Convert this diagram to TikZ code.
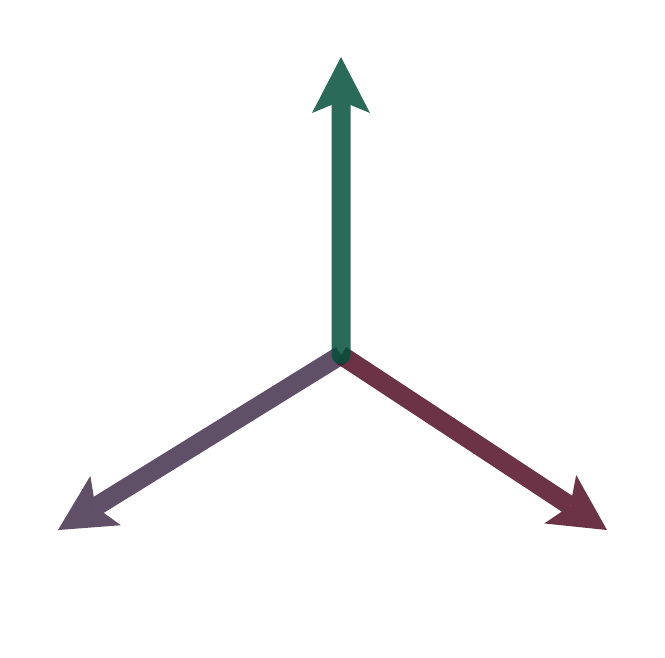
\documentclass[tikz,border=0pt]{standalone}
\usepackage{tikz}
\usetikzlibrary{arrows.meta}

\definecolor{axisgreen}{RGB}{5,80,59}
\definecolor{axispurple}{RGB}{67,48,76}
\definecolor{axismaroon}{RGB}{81,15,36}

\begin{document}
\begin{tikzpicture}[
  axis/.style={line width=5.4pt,
    -{Stealth[length=5.6mm, width=5.8mm, inset=1.2mm, line width=0pt]}},
  faded/.style={transparency group, opacity=0.85},
]
\useasboundingbox (0,0) rectangle (6.65,6.57);

% --- origin and tips ---
\coordinate (origin) at (3.41,3.02);
\coordinate (tipUp) at (3.41,6.00);
\coordinate (tipLeft) at (0.58,1.27);
\coordinate (tipRight) at (6.07,1.27);

% lower axes first
\begin{scope}[faded]
  \draw[axis, axispurple] (origin) -- (tipLeft);
\end{scope}
\begin{scope}[faded]
  \draw[axis, axismaroon] (origin) -- (tipRight);
\end{scope}

% vertical axis on top
\begin{scope}[faded]
  \draw[axis, axisgreen, line cap=round] (origin) -- (tipUp);
\end{scope}

\end{tikzpicture}
\end{document}
